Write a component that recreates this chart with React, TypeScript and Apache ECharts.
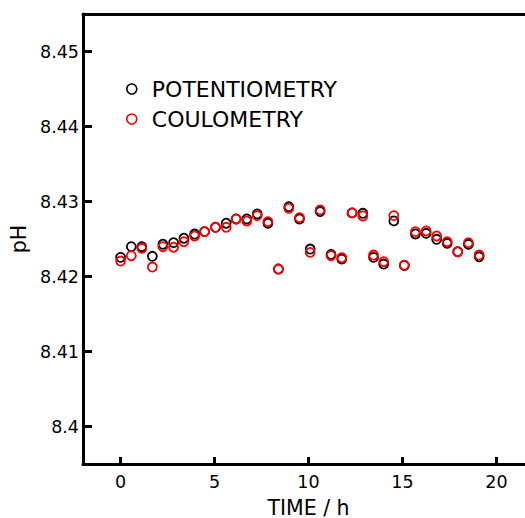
import React, { useEffect, useRef } from "react";
import * as echarts from "echarts";

const timeH = [0, 0.57, 1.13, 1.69, 2.25, 2.82, 3.37, 3.94, 4.47, 5.05, 5.62, 6.15, 6.72, 7.27, 7.84, 8.4, 8.95, 9.52, 10.09, 10.62, 11.2, 11.77, 12.32, 12.89, 13.46, 14.0, 14.54, 15.1, 15.69, 16.26, 16.82, 17.38, 17.94, 18.51, 19.08];
const potentiometry = [8.42255, 8.42397, 8.42397, 8.42269, 8.4243, 8.42451, 8.4251, 8.42566, 8.42598, 8.42656, 8.4271, 8.42767, 8.42767, 8.42834, 8.4271, 8.42099, 8.42932, 8.42767, 8.42366, 8.42866, 8.42295, 8.42233, 8.42848, 8.42843, 8.42255, 8.42166, 8.42741, 8.42147, 8.42567, 8.42576, 8.42496, 8.42442, 8.4233, 8.42429, 8.42263];
const coulometry = [8.42206, 8.42277, 8.42376, 8.42126, 8.42397, 8.4239, 8.42464, 8.4254, 8.42598, 8.42656, 8.42656, 8.42767, 8.4274, 8.42811, 8.42731, 8.42099, 8.4291, 8.42785, 8.42322, 8.42888, 8.42277, 8.4225, 8.42848, 8.42807, 8.42286, 8.42197, 8.42812, 8.42152, 8.42598, 8.42607, 8.4254, 8.42464, 8.4233, 8.42451, 8.42286];
const xTicks = [0, 5, 10, 15, 20];
const yTicks = [8.4, 8.41, 8.42, 8.43, 8.44, 8.45];
const seriesNames = ["POTENTIOMETRY", "COULOMETRY"];
const seriesColors = ["#000000", "#ff0000"];

const FONT = "DejaVu Sans";

export default function App() {
  const ref = useRef<HTMLDivElement>(null);
  useEffect(() => {
    if (!ref.current) return;
    const chart = echarts.init(ref.current, null, { renderer: "svg" });
    const lineStyle = { color: "#000", width: 3 };
    const mk = (vals: number[]) => timeH.map((t, i) => [t, vals[i]]);
    chart.setOption({
      animation: false,
      backgroundColor: "#fff",
      grid: { left: 83, top: 14, bottom: 54, right: -9, containLabel: false, outerBoundsMode: "none" },
      legend: {
        orient: "vertical",
        left: 121,
        top: 73,
        itemGap: 8,
        itemWidth: 10,
        itemHeight: 10,
        textStyle: { fontFamily: FONT, fontSize: 22, color: "#000", padding: [0, 0, 0, 10] },
        data: seriesNames.map((n, i) => ({
          name: n,
          icon: "circle",
          itemStyle: { color: "transparent", borderColor: seriesColors[i], borderWidth: 1.6, opacity: 1 },
        })),
      },
      xAxis: [
        {
          type: "value",
          min: -2,
          max: 22,
          name: "TIME / h",
          nameLocation: "middle",
          nameGap: 33,
          nameTextStyle: { fontFamily: FONT, fontSize: 20.5, color: "#000" },
          axisLine: { show: true, onZero: false, lineStyle },
          axisTick: { show: true, inside: true, length: 7, lineStyle, customValues: xTicks },
          axisLabel: { fontFamily: FONT, fontSize: 17.5, color: "#000", margin: 9, customValues: xTicks },
          splitLine: { show: false },
        },
        {
          type: "value",
          position: "top",
          min: -2,
          max: 22,
          axisLine: { show: true, onZero: false, lineStyle },
          axisTick: { show: false },
          axisLabel: { show: false },
          splitLine: { show: false },
        },
      ],
      yAxis: {
        type: "value",
        min: 8.395,
        max: 8.455,
        name: "pH",
        nameLocation: "middle",
        nameGap: 48,
        nameTextStyle: { fontFamily: FONT, fontSize: 20.5, color: "#000" },
        axisLine: { show: true, onZero: false, lineStyle },
        axisTick: { show: true, inside: true, length: 9, lineStyle, customValues: yTicks },
        axisLabel: {
          fontFamily: FONT,
          fontSize: 17.5,
          color: "#000",
          margin: 4,
          customValues: yTicks,
          formatter: (v: number) => String(+v.toFixed(2)),
        },
        splitLine: { show: false },
      },
      series: [potentiometry, coulometry].map((vals, i) => ({
        name: seriesNames[i],
        type: "scatter",
        data: mk(vals),
        symbol: "circle",
        symbolSize: 9,
        itemStyle: { color: "transparent", borderColor: seriesColors[i], borderWidth: 1.8, opacity: 1 },
        z: 2 + i,
      })),
    });
    return () => chart.dispose();
  }, []);
  return <div ref={ref} style={{ width: 525, height: 518, position: "absolute", left: 0, top: 0 }} />;
}
